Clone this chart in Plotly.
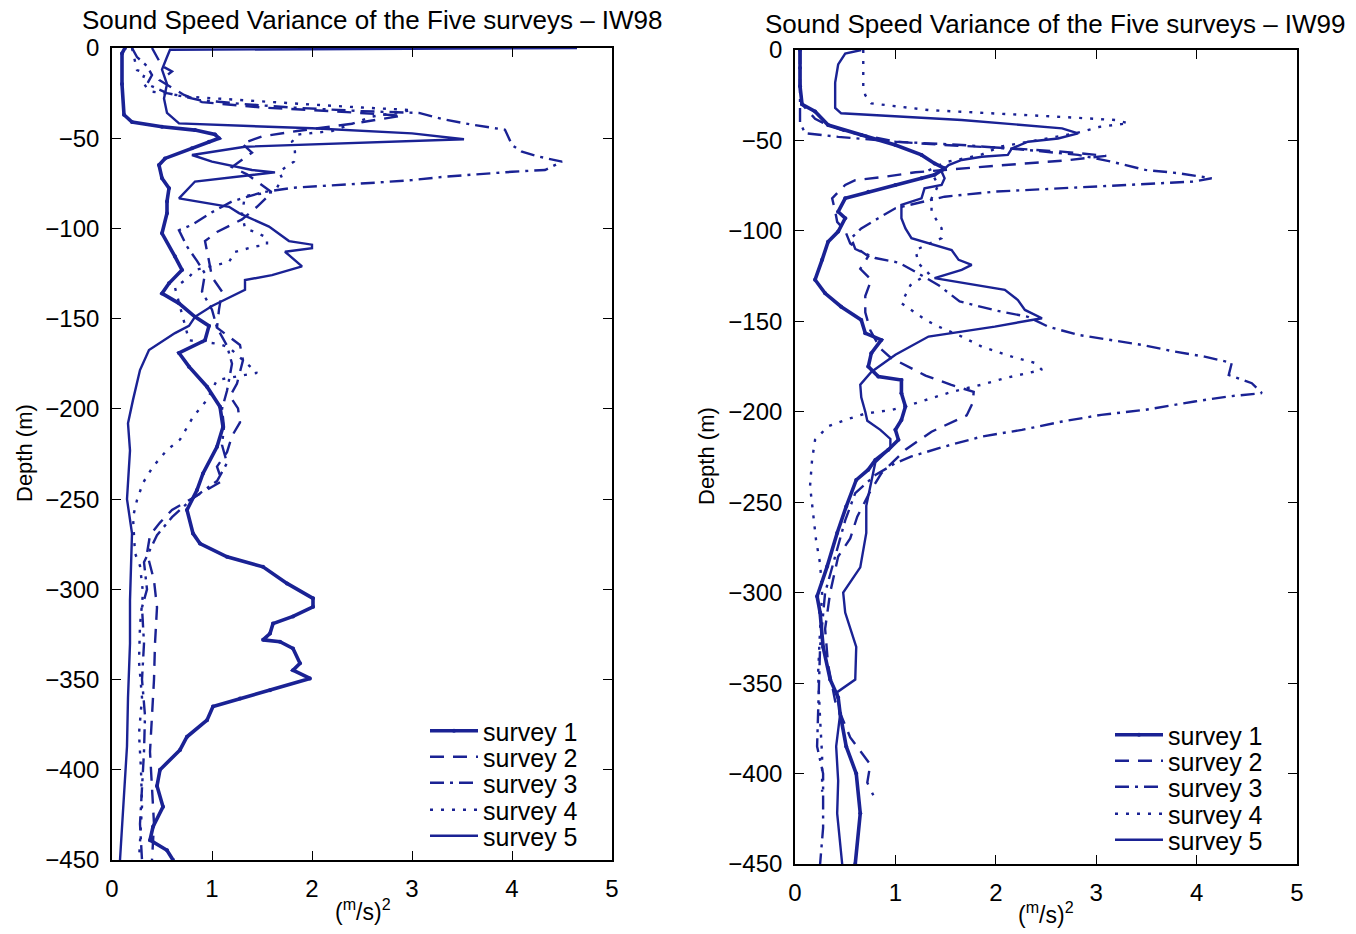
import plotly.graph_objects as go

# ---------------- IW98 (left panel) ----------------
iw98_s1_depth = [0, -3, -20, -37, -41, -43.6, -45.5, -47.9, -50, -52, -55.6, -61.2, -64.9, -72.2, -77.7, -85, -91.6, -102.7, -115.6, -123,
                 -130.4, -136, -141.5, -149, -154, -162, -169, -176.6, -187.7, -198.8, -210, -221, -235.8, -245, -256, -269, -274.6, -282, -287.5, -296.7,
                 -305, -309.7, -315, -319, -324.5, -328, -329, -332.8, -341, -344.8, -349.4, -355.9, -360.5, -365, -372.5, -381.7, -389, -400, -409, -420.5,
                 -431.6, -439, -444.6, -450]
iw98_s1_var = [0.13, 0.1, 0.1, 0.12, 0.2, 0.5, 0.83, 1.03, 1.07, 0.97, 0.8, 0.53, 0.47, 0.5, 0.57, 0.55, 0.55, 0.5, 0.63, 0.7,
               0.57, 0.5, 0.67, 0.83, 0.97, 0.93, 0.67, 0.77, 0.95, 1.08, 1.11, 1.05, 0.91, 0.85, 0.75, 0.81, 0.88, 1.15, 1.51, 1.75,
               2.01, 2.01, 1.81, 1.61, 1.58, 1.51, 1.68, 1.81, 1.88, 1.81, 1.98, 1.58, 1.28, 1.01, 0.95, 0.75, 0.68, 0.48, 0.45, 0.51,
               0.41, 0.38, 0.55, 0.61]

iw98_s2_depth = [0, -5, -10, -13, -18, -22, -26, -30, -33, -35, -37.5, -42, -46, -49, -53, -58, -62, -66, -70, -74,
                 -80, -88, -95, -102, -107, -118, -127, -135, -145, -155, -164.6, -173, -186, -193, -199.7, -207.5, -215, -224, -232, -240,
                 -248, -256, -263, -270, -280, -295, -310, -330, -350, -370, -390, -410, -430, -450]
iw98_s2_var = [0.4, 0.45, 0.5, 0.6, 0.48, 0.6, 0.72, 0.9, 1.5, 2.2, 2.9, 2.4, 1.85, 1.5, 1.3, 1.4, 1.3, 1.2, 1.35, 1.45,
               1.6, 1.45, 1.3, 1.05, 0.93, 0.97, 1.0, 1.1, 1.07, 1.05, 1.28, 1.31, 1.25, 1.18, 1.26, 1.28, 1.2, 1.15, 1.05, 1.1,
               0.85, 0.6, 0.48, 0.38, 0.35, 0.42, 0.45, 0.43, 0.42, 0.4, 0.38, 0.4, 0.42, 0.4]

iw98_s3_depth = [0, -5, -10, -15, -20, -25, -28.8, -31, -33, -35, -36, -39.7, -42.5, -44.3, -45.3, -53.8, -57.5, -60.2, -63, -67.6,
                 -68.6, -71.3, -73.2, -74.5, -75.6, -76.5, -77.5, -80, -85, -91, -98, -101, -110, -118, -125, -135, -145, -155, -165, -175,
                 -190, -200, -210, -220, -230, -240, -250, -260, -270, -285, -300, -310, -330, -350, -370, -390, -410, -430, -450]
iw98_s3_var = [0.2, 0.25, 0.35, 0.4, 0.35, 0.55, 0.87, 1.3, 1.8, 2.5, 3.07, 3.33, 3.6, 3.8, 3.93, 4.0, 4.1, 4.27, 4.5, 4.33,
               4.0, 3.33, 3.0, 2.67, 2.33, 2.0, 1.8, 1.5, 1.2, 1.0, 0.8, 0.67, 0.75, 0.85, 0.93, 0.9, 1.0, 1.05, 1.15, 1.2,
               1.15, 1.1, 1.12, 1.1, 1.15, 1.05, 0.8, 0.6, 0.45, 0.32, 0.35, 0.3, 0.32, 0.3, 0.33, 0.32, 0.3, 0.28, 0.3]

iw98_s4_depth = [0, -5, -12.2, -14, -18, -22.4, -24.2, -27, -29, -31, -33, -34.4, -38, -42, -46, -48, -52, -57.5, -63, -68.6,
                 -72, -79.7, -82, -91.6, -100, -102, -105, -109, -110, -113, -118.6, -123, -127, -132.8, -147.9, -162, -164, -166, -174, -180,
                 -184, -195, -204.5, -217, -222.8, -232, -241, -250.5, -260, -280, -287, -302, -320, -340, -360, -380, -400, -420, -440, -450]
iw98_s4_var = [0.2, 0.22, 0.25, 0.33, 0.3, 0.35, 0.4, 0.77, 1.3, 1.9, 2.5, 3.0, 2.6, 2.4, 2.2, 1.85, 1.8, 1.83, 1.82, 1.67,
               1.7, 1.63, 1.33, 1.3, 1.33, 1.43, 1.55, 1.55, 1.43, 1.23, 1.17, 0.83, 0.77, 0.63, 0.7, 0.77, 1.07, 1.17, 1.33, 1.45,
               1.05, 0.95, 0.81, 0.68, 0.55, 0.41, 0.31, 0.25, 0.21, 0.23, 0.28, 0.31, 0.28, 0.27, 0.3, 0.27, 0.29, 0.3, 0.28, 0.27]

iw98_s5_depth = [0, -1, -5, -12, -20, -28, -36, -41.8, -44.5, -47.3, -50.6, -52.9, -54.7, -59.3, -63, -67.6, -68.9, -70.4, -74, -83.3,
                 -88, -91.5, -99, -107, -109, -111, -112.9, -121, -125.9, -128.6, -134, -143, -149, -154, -158, -167.4, -178.5, -195, -208, -223,
                 -250, -269, -306, -330, -360, -387, -405, -430, -450]
iw98_s5_var = [4.65, 0.58, 0.55, 0.5, 0.55, 0.52, 0.55, 0.67, 2.0, 3.0, 3.52, 2.33, 1.33, 0.8, 1.0, 1.4, 1.63, 1.4, 0.83, 0.67,
               1.17, 1.27, 1.57, 1.77, 2.0, 2.0, 1.73, 1.9, 1.6, 1.33, 1.33, 1.0, 0.83, 0.77, 0.63, 0.37, 0.28, 0.21, 0.16, 0.18,
               0.15, 0.2, 0.18, 0.18, 0.16, 0.15, 0.13, 0.1, 0.08]

# ---------------- IW99 (right panel) ----------------
iw99_s1_depth = [0, -10, -20, -30, -34, -41.5, -47, -52.5, -58, -62.7, -65.4, -69, -70.9, -74.6, -78.3, -82, -89.4, -93, -100.4, -106,
                 -116, -127, -134.5, -141.9, -149.2, -156.6, -160.3, -167.6, -175, -180.5, -182.4, -189.7, -197.1, -204.5, -210, -215.5, -221, -226.6, -232, -237.7,
                 -252.4, -267, -285.6, -302, -311, -330, -348, -358, -367, -385, -400, -422, -450]
iw99_s1_var = [0.05, 0.05, 0.05, 0.07, 0.2, 0.33, 0.66, 1.0, 1.26, 1.39, 1.49, 1.39, 1.26, 1.0, 0.73, 0.5, 0.43, 0.5, 0.43, 0.33,
               0.27, 0.2, 0.3, 0.46, 0.66, 0.7, 0.86, 0.76, 0.73, 0.83, 1.06, 1.06, 1.1, 1.06, 1.0, 1.03, 0.93, 0.8, 0.73, 0.61,
               0.51, 0.42, 0.32, 0.22, 0.25, 0.28, 0.35, 0.43, 0.45, 0.51, 0.61, 0.65, 0.6]

iw99_s2_depth = [0, -10, -20, -30, -38, -40, -45, -50.7, -52.5, -54.4, -56.2, -58.5, -61, -64, -66, -67.6, -70, -72, -74.6, -82,
                 -89, -95, -100, -107, -114, -121, -127, -136, -145, -155, -165, -170, -180, -185, -189, -195, -202, -211, -221, -234,
                 -245, -258, -270, -280, -300, -320, -340, -360, -380, -395, -405, -412]
iw99_s2_var = [0.05, 0.05, 0.05, 0.07, 0.2, 0.27, 0.5, 1.0, 1.49, 2.16, 2.66, 3.1, 2.7, 2.0, 1.5, 1.2, 0.9, 0.6, 0.5, 0.37,
               0.4, 0.42, 0.5, 0.55, 0.73, 0.65, 0.76, 0.7, 0.7, 0.75, 0.85, 0.95, 1.3, 1.55, 1.78, 1.77, 1.71, 1.36, 1.1, 0.86,
               0.74, 0.62, 0.55, 0.43, 0.35, 0.3, 0.33, 0.4, 0.55, 0.75, 0.72, 0.78]

iw99_s3_depth = [0, -20, -40, -46, -48, -50.7, -52.5, -55.3, -58, -61.7, -66.3, -68.1, -70, -70.9, -72.7, -74.6, -76.5, -78.3, -81.1, -87.5,
                 -93, -98.6, -104, -110, -115, -117.5, -122, -130, -139, -144, -147.5, -152.9, -157.5, -160.3, -163, -166.7, -169.5, -173, -179.6, -184.2,
                 -189.7, -191.5, -194.3, -198.9, -201.7, -205.4, -210, -213.7, -219.2, -224.7, -228.4, -235, -245, -260, -280, -300, -330, -360, -385, -400,
                 -430, -450]
iw99_s3_var = [0.05, 0.05, 0.05, 0.1, 0.43, 1.0, 1.66, 2.32, 2.82, 3.15, 3.49, 3.82, 4.05, 4.15, 3.98, 3.32, 2.66, 1.99, 1.49, 1.0,
               0.83, 0.66, 0.56, 0.6, 0.8, 1.03, 1.18, 1.43, 1.64, 2.0, 2.32, 2.52, 2.82, 3.12, 3.45, 3.78, 4.08, 4.35, 4.32, 4.55,
               4.65, 4.32, 3.98, 3.49, 3.05, 2.66, 2.26, 1.86, 1.49, 1.16, 1.0, 0.8, 0.6, 0.5, 0.4, 0.3, 0.25, 0.23, 0.22, 0.28,
               0.28, 0.25]

iw99_s4_depth = [0, -10, -20, -25, -29.5, -33.2, -35, -37, -38.7, -40.5, -42.4, -46, -50, -53.5, -58, -62, -66.3, -74.6, -82, -89.4,
                 -98.6, -104, -110.6, -118, -123.5, -130, -140, -145.5, -149.2, -152.9, -158.4, -164, -169.5, -173, -176.8, -178.6, -181, -185, -189, -193,
                 -196, -199, -201, -204.5, -208, -215.5, -226.6, -241, -258, -271, -284, -300, -320, -345, -370, -390, -410]
iw99_s4_var = [0.68, 0.68, 0.68, 0.7, 0.76, 1.33, 2.0, 2.66, 3.19, 3.32, 3.04, 2.8, 2.4, 2.04, 1.85, 1.5, 1.34, 1.43, 1.36, 1.36,
               1.46, 1.46, 1.2, 1.23, 1.33, 1.15, 1.06, 1.2, 1.3, 1.43, 1.66, 1.86, 2.16, 2.39, 2.46, 2.32, 2.12, 1.86, 1.56, 1.33,
               1.16, 0.96, 0.7, 0.5, 0.33, 0.2, 0.17, 0.15, 0.18, 0.21, 0.25, 0.27, 0.25, 0.23, 0.25, 0.27, 0.27]

iw99_s5_depth = [0, -2, -8, -18, -32, -35, -38.7, -41.5, -43.3, -46.1, -48.9, -50.7, -54.4, -58, -59, -60.8, -63.6, -67.2, -70.9, -74.6,
                 -76.5, -82, -85.6, -93, -98.6, -104, -107.8, -110.6, -116, -118.8, -121.5, -126.1, -132.6, -138.2, -143.7, -148.3, -152.9, -158.4, -168.5, -178,
                 -185, -192, -200, -205, -210, -215, -220, -228, -252, -267, -286, -300, -311, -330, -348, -355, -367, -385, -404, -422,
                 -450]
iw99_s5_var = [0.66, 0.5, 0.43, 0.4, 0.4, 0.46, 1.66, 2.32, 2.66, 2.82, 2.62, 2.32, 2.16, 2.12, 1.86, 1.66, 1.53, 1.46, 1.49, 1.46,
               1.29, 1.26, 1.06, 1.06, 1.1, 1.16, 1.39, 1.56, 1.63, 1.76, 1.66, 1.39, 2.09, 2.22, 2.29, 2.46, 1.99, 1.33, 1.0, 0.76,
               0.65, 0.66, 0.7, 0.72, 0.85, 0.95, 0.95, 0.8, 0.71, 0.71, 0.65, 0.48, 0.5, 0.61, 0.6, 0.42, 0.45, 0.41, 0.43, 0.42,
               0.47]

survey_names = ["survey 1", "survey 2", "survey 3", "survey 4", "survey 5"]
x_ticks = [0, 1, 2, 3, 4, 5]
y_ticks = [0, -50, -100, -150, -200, -250, -300, -350, -400, -450]
titles = ["Sound Speed Variance of the Five surveys \u2013 IW98",
          "Sound Speed Variance of the Five surveys \u2013 IW99"]

COLOR = "#1a2294"
styles = [
    dict(dash="solid", width=3.6, mode="lines+markers"),
    dict(dash="14px,9px", width=2.4, mode="lines"),
    dict(dash="14px,6px,3px,6px", width=2.4, mode="lines"),
    dict(dash="3px,8px", width=2.4, mode="lines"),
    dict(dash="solid", width=2.4, mode="lines"),
]

W, H = 1356, 934
FONT = "Liberation Sans, Arial, Helvetica, sans-serif"

def px(v): return v / W
def py(v): return 1 - v / H

panels = [
    ([iw98_s1_var, iw98_s2_var, iw98_s3_var, iw98_s4_var, iw98_s5_var],
     [iw98_s1_depth, iw98_s2_depth, iw98_s3_depth, iw98_s4_depth, iw98_s5_depth], "x", "y",
     425, [731, 757, 783, 810, 836]),
    ([iw99_s1_var, iw99_s2_var, iw99_s3_var, iw99_s4_var, iw99_s5_var],
     [iw99_s1_depth, iw99_s2_depth, iw99_s3_depth, iw99_s4_depth, iw99_s5_depth], "x2", "y2",
     1110, [735, 761, 787, 814, 840]),
]

fig = go.Figure()
legend_layouts = {}
k = 0
for vars_, depths, xa, ya, lgx, rows in panels:
    for name, v, d, st, ry in zip(survey_names, vars_, depths, styles, rows):
        k += 1
        lg = "legend" if k == 1 else f"legend{k}"
        tr = dict(x=v, y=d, name=name, xaxis=xa, yaxis=ya, legend=lg, mode=st["mode"], showlegend=True,
                  line=dict(color=COLOR, width=st["width"], dash=st["dash"]))
        if "markers" in st["mode"]:
            tr["marker"] = dict(size=4, color=COLOR)
        fig.add_trace(go.Scatter(**tr))
        legend_layouts[lg] = dict(x=px(lgx), y=py(ry), xanchor="left", yanchor="middle",
                                  bgcolor="rgba(0,0,0,0)", borderwidth=0, itemwidth=48,
                                  font=dict(family=FONT, size=25, color="black"))

axis_common = dict(showline=True, linecolor="black", linewidth=1.6, mirror="allticks",
                   ticks="inside", ticklen=9, tickwidth=1.4, tickcolor="black",
                   showgrid=False, zeroline=False, ticklabelstandoff=6,
                   tickfont=dict(family=FONT, size=24, color="black"))

fig.update_layout(
    width=W, height=H,
    showlegend=True,
    margin=dict(l=0, r=0, t=0, b=0, autoexpand=False),
    paper_bgcolor="white", plot_bgcolor="white",
    font=dict(family=FONT, color="black"),
    xaxis=dict(domain=[px(112), px(612)], range=[0, 5], tickvals=x_ticks, anchor="y", **axis_common),
    yaxis=dict(domain=[py(860), py(48)], range=[-450, 0], tickvals=y_ticks, anchor="x", **axis_common),
    xaxis2=dict(domain=[px(795), px(1297)], range=[0, 5], tickvals=x_ticks, anchor="y2", **axis_common),
    yaxis2=dict(domain=[py(864), py(50)], range=[-450, 0], tickvals=y_ticks, anchor="x2", **axis_common),
    annotations=[
        dict(text=titles[0], x=px(372), y=py(20), xref="paper", yref="paper", showarrow=False,
             xanchor="center", yanchor="middle", font=dict(family=FONT, size=26, color="black")),
        dict(text=titles[1], x=px(1055), y=py(24), xref="paper", yref="paper", showarrow=False,
             xanchor="center", yanchor="middle", font=dict(family=FONT, size=26, color="black")),
        dict(text="Depth (m)", x=px(24), y=py(453), xref="paper", yref="paper", showarrow=False, textangle=-90,
             xanchor="center", yanchor="middle", font=dict(family=FONT, size=22, color="black")),
        dict(text="Depth (m)", x=px(706), y=py(456), xref="paper", yref="paper", showarrow=False, textangle=-90,
             xanchor="center", yanchor="middle", font=dict(family=FONT, size=22, color="black")),
        dict(text="(<sup>m</sup>/s)<sup>2</sup>", x=px(363), y=py(910), xref="paper", yref="paper", showarrow=False,
             xanchor="center", yanchor="middle", font=dict(family=FONT, size=23, color="black")),
        dict(text="(<sup>m</sup>/s)<sup>2</sup>", x=px(1046), y=py(913), xref="paper", yref="paper", showarrow=False,
             xanchor="center", yanchor="middle", font=dict(family=FONT, size=23, color="black")),
    ],
    **legend_layouts,
)

fig.write_html("out.html")
